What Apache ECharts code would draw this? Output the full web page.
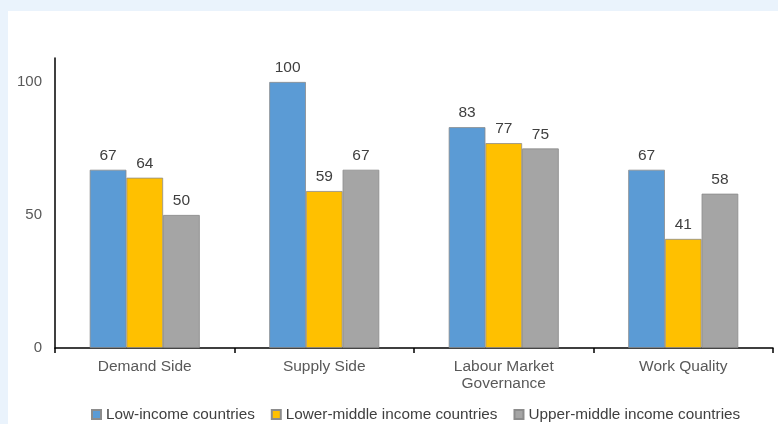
<!DOCTYPE html>
<html>
<head>
<meta charset="utf-8">
<script src="https://cdn.jsdelivr.net/npm/echarts@6/dist/echarts.min.js"></script>
<style>
html,body{margin:0;padding:0;background:#eaf3fc;width:778px;height:424px;overflow:hidden;}
#chart{position:absolute;left:8px;top:11px;width:770px;height:413px;background:#ffffff;}
</style>
</head>
<body>
<div id="chart"></div>
<script>
const categories = ['Demand Side', 'Supply Side', 'Labour Market\nGovernance', 'Work Quality'];
const seriesNames = ['Low-income countries', 'Lower-middle income countries', 'Upper-middle income countries'];
const lowIncome = [67, 100, 83, 67];
const lowerMiddle = [64, 59, 77, 41];
const upperMiddle = [50, 67, 75, 58];
const yTicks = [0, 50, 100];
const colors = ['#5b9bd5', '#ffc000', '#a5a5a5'];

const chart = echarts.init(document.getElementById('chart'), null, {renderer: 'canvas'});
const font = 'Liberation Sans, Arial, sans-serif';
const dataSets = [lowIncome, lowerMiddle, upperMiddle];
chart.setOption({
  animation: false,
  textStyle: {fontFamily: font},
  grid: {left: 47, right: 5, top: 47, bottom: 76, containLabel: false},
  legend: {
    left: 78, top: 391,
    itemWidth: 9, itemHeight: 9, itemGap: 16,
    icon: 'rect',
    textStyle: {fontSize: 15.3, color: '#404040', fontFamily: font},
    data: seriesNames
  },
  xAxis: {
    type: 'category',
    data: categories,
    axisLine: {lineStyle: {color: '#000000', width: 1.5}},
    axisTick: {show: true, length: 5, lineStyle: {color: '#000000', width: 1.5}},
    axisLabel: {fontSize: 15.5, color: '#595959', margin: 10, lineHeight: 17, fontFamily: font}
  },
  yAxis: {
    type: 'value',
    min: yTicks[0], max: 109, interval: 50,
    axisLine: {show: true, lineStyle: {color: '#000000', width: 1.5}},
    axisTick: {show: false},
    splitLine: {show: false},
    axisLabel: {fontSize: 15, color: '#595959', margin: 13, showMaxLabel: false, fontFamily: font}
  },
  series: dataSets.map((d, i) => ({
    name: seriesNames[i],
    type: 'bar',
    data: d,
    barGap: '0%',
    barCategoryGap: '38.7%',
    itemStyle: {color: colors[i], borderColor: '#8c8c8c', borderWidth: 0.8},
    label: {show: true, position: 'top', distance: 6, fontSize: 15.5, color: '#404040', fontFamily: font}
  }))
});
</script>
</body>
</html>
